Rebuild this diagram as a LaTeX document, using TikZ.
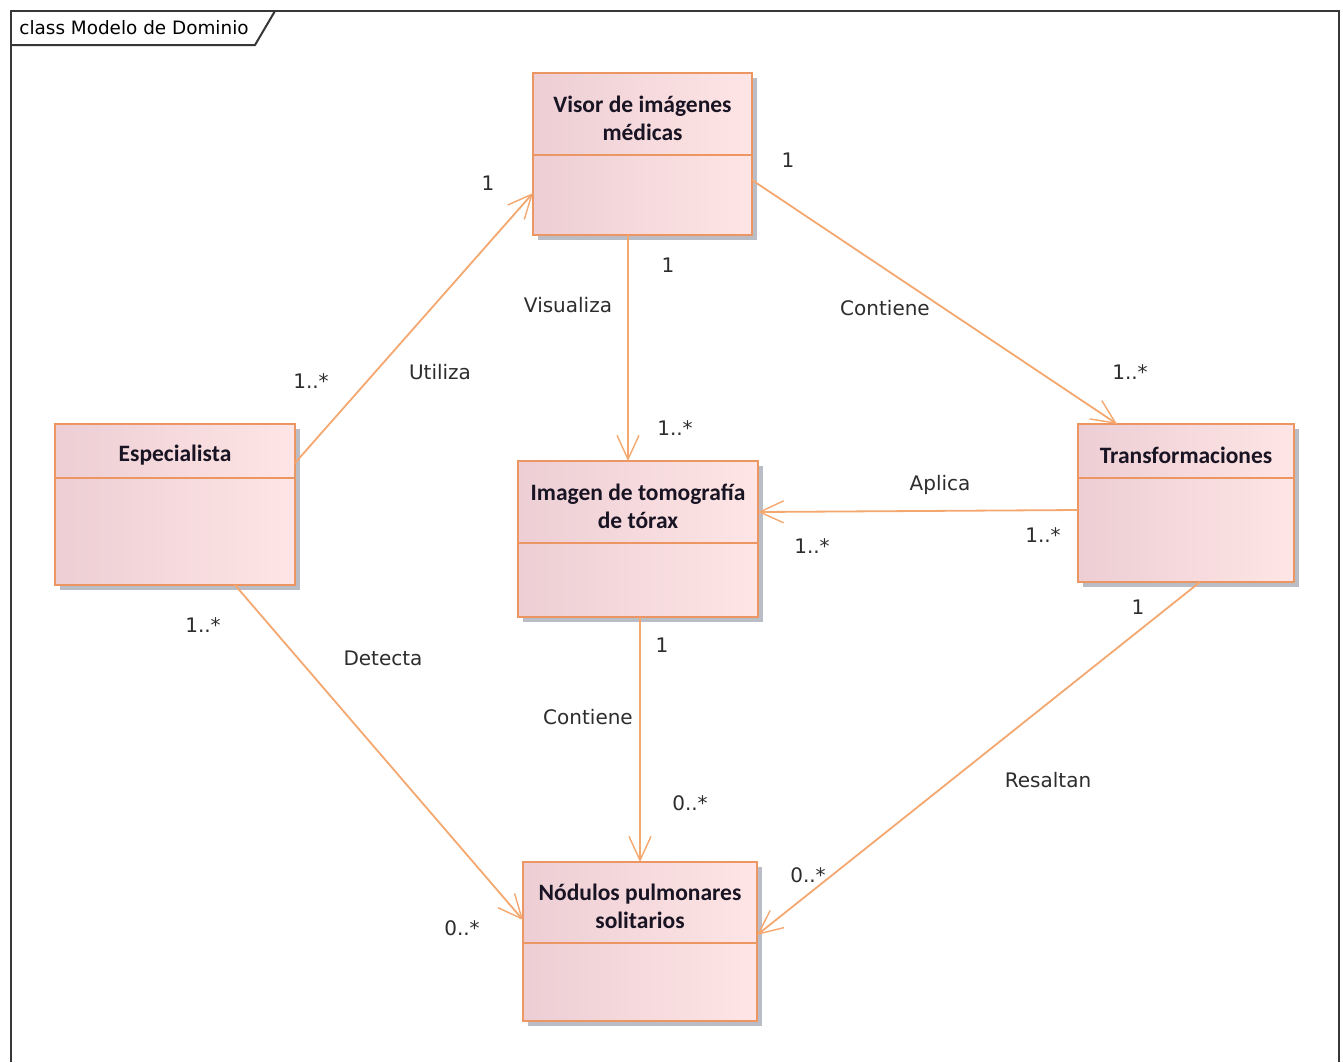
\documentclass[tikz,border=0pt]{standalone}
\usepackage{fontspec}
\setmainfont{DejaVu Sans}
\newfontfamily\classfont{Carlito}
\usetikzlibrary{arrows.meta,calc}

\definecolor{umlline}{RGB}{244,168,112}
\definecolor{umlborder}{RGB}{236,150,100}
\definecolor{pinkL}{RGB}{236,206,212}
\definecolor{pinkR}{RGB}{255,229,229}
\definecolor{boxshadow}{RGB}{186,188,198}
\definecolor{framecol}{RGB}{55,55,55}
\definecolor{labeltext}{RGB}{45,45,45}
\definecolor{nametext}{RGB}{25,20,35}

\tikzset{
  assoc/.style={draw=umlline, line width=0.9pt,
    -{Straight Barb[length=12pt,width=11pt,line width=0.7pt]}},
  mult/.style={font=\fontsize{10}{12}\selectfont, text=labeltext, inner sep=0pt},
  classname/.style={font=\classfont\bfseries\fontsize{11.75}{14}\selectfont,
    align=center, text=nametext, inner sep=0pt},
  classbody/.style={draw=umlborder, line width=0.9pt, left color=pinkL,
    right color=pinkR, inner sep=0pt, outer sep=0pt, rectangle},
}

% #1 name, #2 x1, #3 y1, #4 x2, #5 y2, #6 divider y, #7 class name
\newcommand\umlclass[7]{%
  \fill[boxshadow] (#2+5,#3+5) rectangle (#4+5,#5+5);
  \node[classbody, minimum width={(#4-#2)*0.5pt}, minimum height={(#5-#3)*0.5pt}]
    (#1) at ({(#2+#4)/2},{(#3+#5)/2}) {};
  \draw[umlborder, line width=0.9pt] (#1.west |- 0,#6) -- (#1.east |- 0,#6);
  \node[classname] (#1-name) at ({(#2+#4)/2},{(#3+#6)/2+4}) {#7};
}

\begin{document}
\begin{tikzpicture}[x=0.5pt, y=-0.5pt]
  \useasboundingbox (0,0) rectangle (1343,1062);
  \fill[white] (0,0) rectangle (1343,1062);

  % diagram frame with its name tab
  \draw[framecol, line width=1pt] (11,1062) -- (11,11) -- (1339,11) -- (1339,1062);
  \draw[framecol, line width=1pt] (11,45) -- (255,45) -- (275,11);
  \node[font=\fontsize{9.2}{11}\selectfont, anchor=west, inner sep=0pt, text=black]
    (frametitle) at (19,28) {class Modelo de Dominio};

  % classes
  \umlclass{visor}{533}{73}{752}{235}{155}{Visor de imágenes\\médicas}
  \umlclass{esp}{55}{424}{295}{585}{478}{Especialista}
  \umlclass{img}{518}{461}{758}{617}{543}{Imagen de tomografía\\de tórax}
  \umlclass{trans}{1078}{424}{1294}{582}{478}{Transformaciones}
  \umlclass{nod}{523}{862}{757}{1021}{943}{Nódulos pulmonares\\solitarios}

  % associations
  \draw[assoc] (esp.east |- 0,463) -- (visor.west |- 0,193);
  \draw[assoc] (visor.south -| 628,0) -- (img.north -| 628,0);
  \draw[assoc] (visor.east |- 0,180) -- (trans.north -| 1117,0);
  \draw[assoc] (trans.west |- 0,510) -- (img.east |- 0,512);
  \draw[assoc] (img.south -| 640,0) -- (nod.north -| 640,0);
  \draw[assoc] (esp.south -| 235,0) -- (nod.west |- 0,920);
  \draw[assoc] (trans.south -| 1200,0) -- (nod.east |- 0,935);

  % association names and multiplicities
  \node[mult] (m1a) at (488,183) {1};
  \node[mult] (m1b) at (311,381) {1..*};
  \node[mult] (n1)  at (440,372) {Utiliza};

  \node[mult] (m2a) at (668,265) {1};
  \node[mult] (n2)  at (568,305) {Visualiza};
  \node[mult] (m2b) at (675,428) {1..*};

  \node[mult] (m3a) at (788,160) {1};
  \node[mult] (n3)  at (885,308) {Contiene};
  \node[mult] (m3b) at (1130,372) {1..*};

  \node[mult] (n4)  at (940,485) {Aplica};
  \node[mult] (m4a) at (812,546) {1..*};
  \node[mult] (m4b) at (1043,535) {1..*};

  \node[mult] (m5a) at (662,645) {1};
  \node[mult] (n5)  at (588,717) {Contiene};
  \node[mult] (m5b) at (690,803) {0..*};

  \node[mult] (m6a) at (203,625) {1..*};
  \node[mult] (n6)  at (383,658) {Detecta};
  \node[mult] (m6b) at (462,928) {0..*};

  \node[mult] (m7a) at (1138,607) {1};
  \node[mult] (n7)  at (1048,780) {Resaltan};
  \node[mult] (m7b) at (808,875) {0..*};
\end{tikzpicture}
\end{document}
